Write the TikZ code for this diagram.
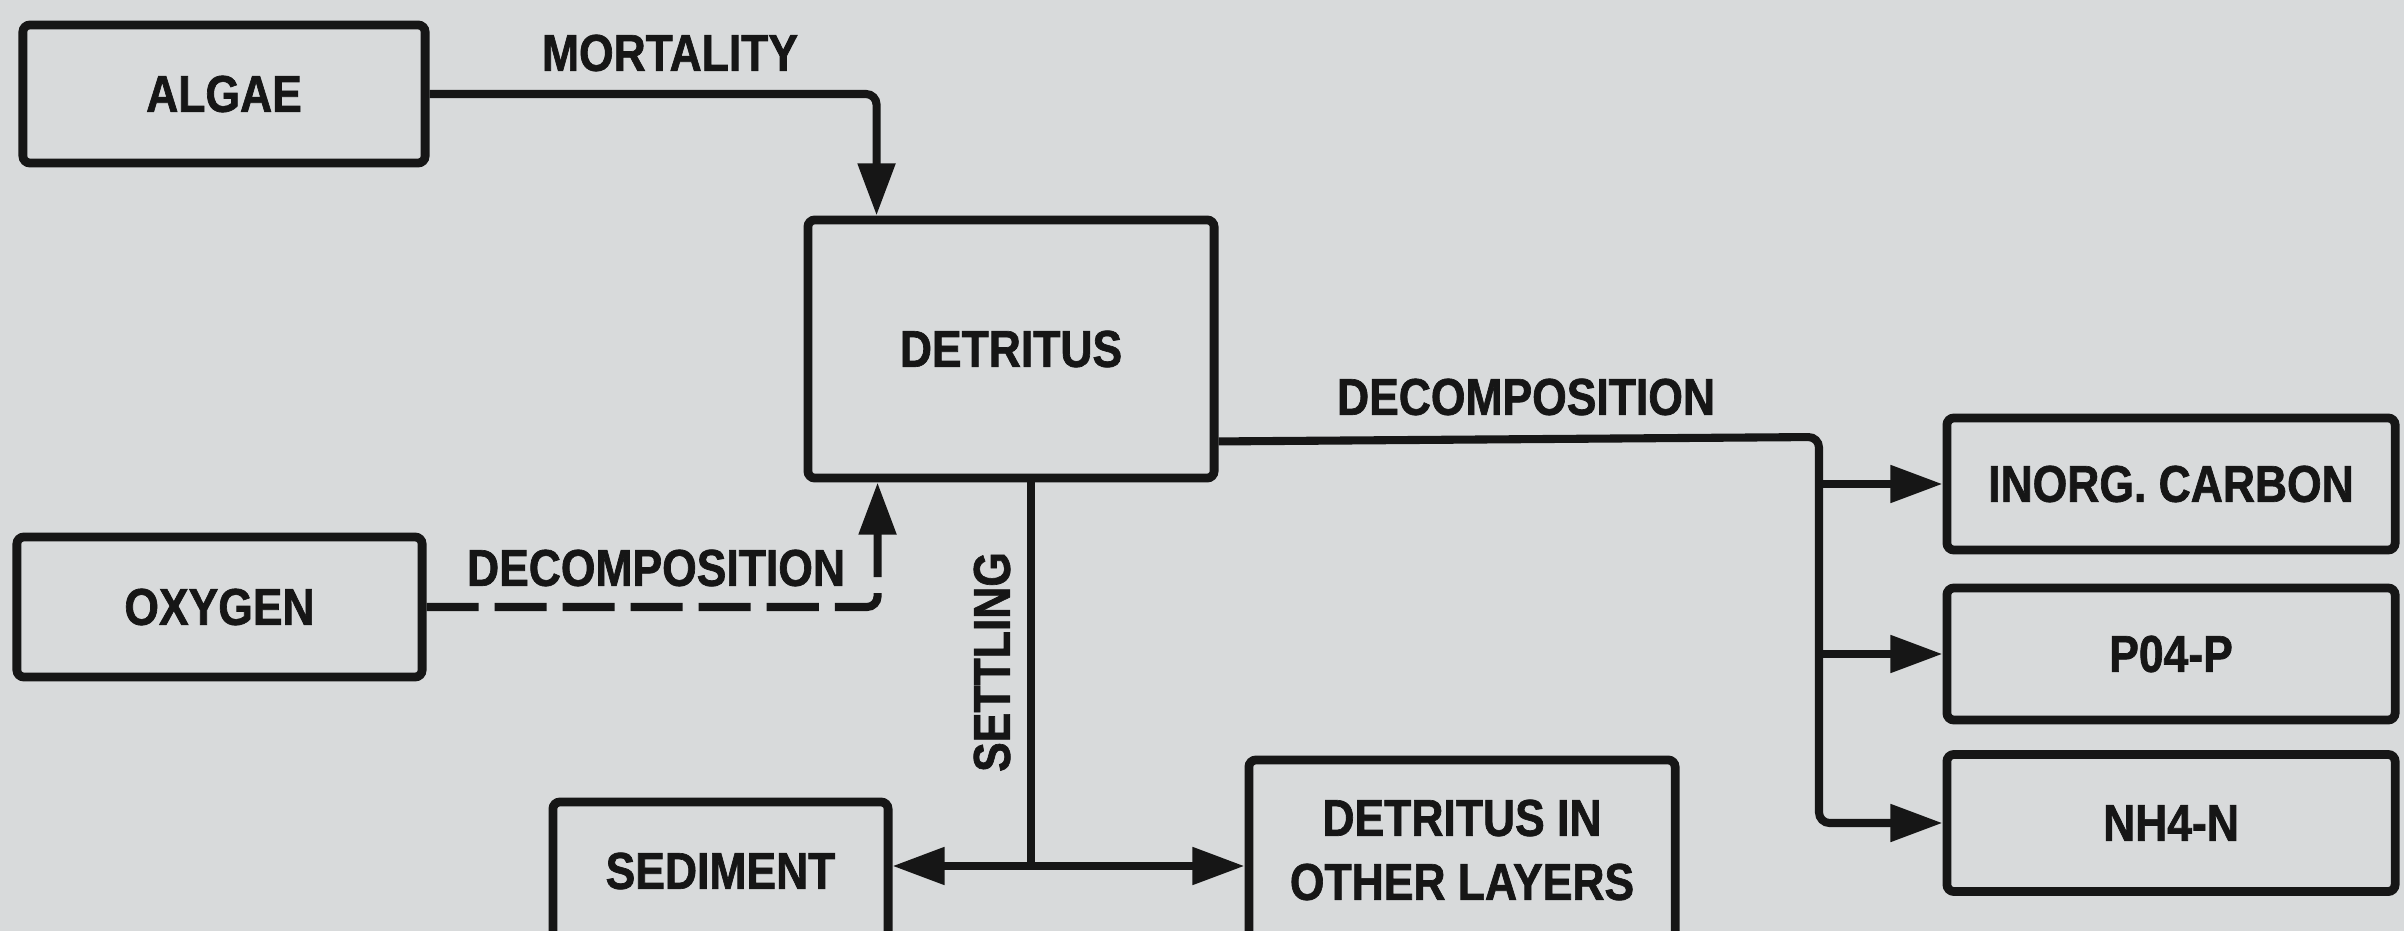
\documentclass[tikz,border=0pt]{standalone}
\usepackage{fontspec}
\setmainfont{Liberation Sans}[FakeStretch=0.86,FakeBold=1.3]
\usetikzlibrary{arrows.meta}
\definecolor{paper}{RGB}{216,218,219}
\definecolor{ink}{RGB}{22,22,22}
\tikzset{
  box/.style={draw=ink, line width=2.5pt, rounded corners=2pt, inner sep=0pt,
    font=\fontsize{14.7}{18.2}\selectfont\bfseries, text=ink, align=center},
  lbl/.style={font=\fontsize{14.7}{18.2}\selectfont\bfseries, text=ink, inner sep=0pt},
  conn/.style={draw=ink, line width=2.3pt, rounded corners=3pt},
  tip/.style={-{Triangle[length=0.52cm,width=0.36cm]}},
  dashconn/.style={dash pattern=on 0.52cm off 0.16cm},
}
\begin{document}
\begin{tikzpicture}[x=0.01cm,y=-0.01cm]
\useasboundingbox (0,0) rectangle (2404,931);
\clip (0,0) rectangle (2404,931);
\fill[paper] (0,0) rectangle (2404,931);

% boxes
\node[box, minimum width=4.02cm, minimum height=1.38cm] (algae) at (224,94) {ALGAE};
\node[box, minimum width=4.05cm, minimum height=1.40cm] (oxygen) at (219.5,607) {OXYGEN};
\node[box, minimum width=4.06cm, minimum height=2.58cm] (detritus) at (1011,349) {DETRITUS};
\node[box, minimum width=3.35cm, minimum height=1.38cm] (sediment) at (720.5,871) {SEDIMENT};
\node[box, minimum width=4.26cm, minimum height=1.80cm] (other) at (1462,850) {DETRITUS IN\\OTHER LAYERS};
\node[box, minimum width=4.48cm, minimum height=1.32cm] (inorg) at (2171,484) {INORG. CARBON};
\node[box, minimum width=4.48cm, minimum height=1.32cm] (po4) at (2171,654) {P04-P};
\node[box, minimum width=4.48cm, minimum height=1.37cm] (nh4) at (2171,823) {NH4-N};

% labels
\node[lbl] (lmort) at (670,53) {MORTALITY};
\node[lbl] (ldecl) at (656,568) {DECOMPOSITION};
\node[lbl] (ldecr) at (1526,397) {DECOMPOSITION};
\node[lbl, rotate=90] (lsett) at (992,662) {SETTLING};

% mortality
\draw[conn, tip] (algae.east) -| ([xshift=0.73cm]detritus.north west);
% oxygen decomposition (dashed)
\draw[conn, tip, dashconn] (oxygen.east) -| ([xshift=0.74cm]detritus.south west);
% decomposition to nutrients
\coordinate (decout) at ([yshift=0.41cm]detritus.south east);
\coordinate (bus) at (1819,437);
\draw[conn, tip] (decout) -- (bus) |- (nh4.west);
\draw[conn, tip] (bus |- inorg.west) -- (inorg.west);
\draw[conn, tip] (bus |- po4.west) -- (po4.west);
% settling
\coordinate (sj) at (1031,866);
\draw[conn] (detritus.south -| sj) -- (sj);
\draw[conn, tip] (sj) -- (sediment.east |- sj);
\draw[conn, tip] (sj) -- (other.west |- sj);
\end{tikzpicture}
\end{document}
